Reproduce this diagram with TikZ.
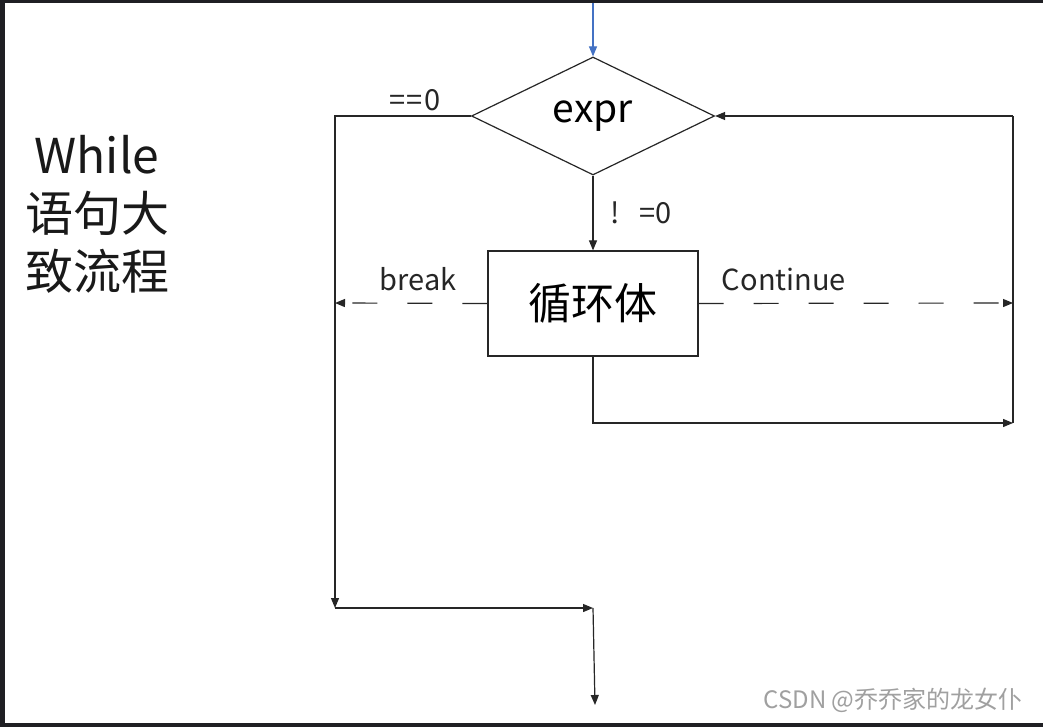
\documentclass[tikz,border=0pt]{standalone}
\usepackage{fontspec}
\setmainfont{Noto Sans CJK SC}
\usetikzlibrary{shapes.geometric,arrows.meta}
\definecolor{frame}{HTML}{1F1F23}
\definecolor{topblue}{HTML}{4472C4}
\definecolor{wm}{HTML}{A0A0A0}
\tikzset{
  line/.style={line width=1.2pt, draw=black!85},
  arr/.style={line, -{Triangle[length=10pt,width=8pt]}},
  dashline/.style={arr, dash pattern=on 25pt off 30pt},
  lbl/.style={font=\fontsize{29}{34}\selectfont, inner sep=0pt, text=black!85},
}
\begin{document}
\begin{tikzpicture}[x=1pt,y=-1pt]
\useasboundingbox (0,0) rectangle (1043,727);
\fill[frame] (0,0) rectangle (1043,727);
\fill[white] (5,3) rectangle (1043,723);

% nodes
\node[line, diamond, minimum width=243pt, minimum height=118pt, aspect=2.06, inner sep=0pt,
      font=\fontsize{39}{44}\selectfont] (expr) at (593,116) {\raisebox{4pt}{expr}};
\node[line, rectangle, minimum width=210pt, minimum height=105pt, inner sep=0pt,
      font=\fontsize{43}{48}\selectfont] (body) at (593,303.5) {循环体};

\coordinate (top) at (593,3);
\coordinate (lc) at (335,116);
\coordinate (lb) at (335,608);
\coordinate (mb) at (593,608);
\coordinate (out) at (595,705);
\coordinate (bk) at (335,303);
\coordinate (ct) at (1013,303);
\coordinate (rb) at (1013,423);
\coordinate (rt) at (1013,116);
\coordinate (bb) at (593,423);

% connectors
\draw[arr, draw=topblue, -{Triangle[length=10pt,width=8pt]}] (top) -- (expr.north);
\draw[arr] (expr.south) -- (body.north);
\draw[arr] (expr.west) -- (lc) -- (lb);
\draw[arr] (lb) -- (mb);
\draw[arr] (mb) -- (out);
\draw[line] (rb) -- (rt);
\draw[arr] (rt) -- (expr.east);
\draw[arr] (body.south) -- (bb) -- (rb);
\draw[dashline] (body.west) -- (bk);
\draw[dashline] (body.east) -- (ct);

% labels
\node[lbl] (l0) at (415,100) {=\kern1pt=\kern1pt0};
\node[lbl] (l1) at (641,213) {!\hspace{20pt}=0};
\node[lbl] (lbreak) at (418,279) {break};
\node[lbl] (lcont) at (784,279) {Continue};

\node[align=center, font=\fontsize{48}{58}\selectfont, inner sep=0pt, text=black!90] (title) at (97,214) {While\\语句大\\致流程};

\node[font=\fontsize{24}{28}\selectfont, text=wm, inner sep=0pt] (wmark) at (893,700) {CSDN @乔乔家的龙女仆};
\end{tikzpicture}
\end{document}
